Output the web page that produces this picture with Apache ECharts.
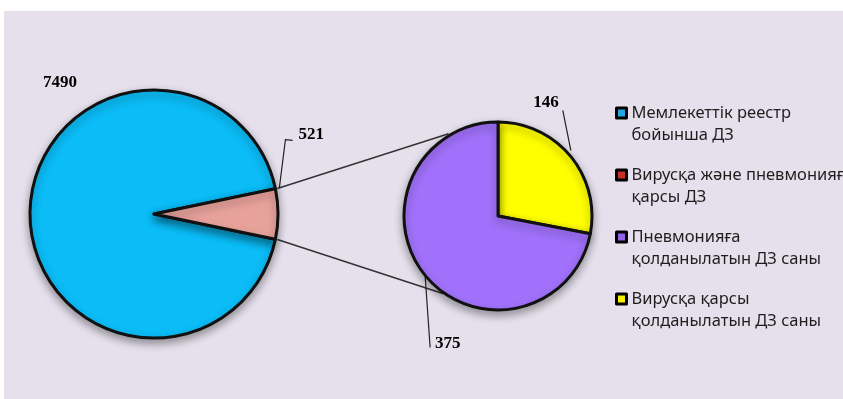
<!DOCTYPE html>
<html>
<head>
<meta charset="utf-8">
<script src="https://cdn.jsdelivr.net/npm/echarts@6/dist/echarts.min.js"></script>
<style>
	html,body{margin:0;padding:0;background:#fff;}
	#chart{width:843px;height:399px;}
</style>
</head>
<body>
<div id="chart"></div>
<script>
// data
var bigNames = ['Мемлекеттік реестр\nбойынша ДЗ', 'Вирусқа және пневмонияға\nқарсы ДЗ'];
var bigValues = [7490, 521];
var smallNames = ['Вирусқа қарсы\nқолданылатын ДЗ саны', 'Пневмонияға\nқолданылатын ДЗ саны'];
var smallValues = [146, 375];
var legendOrder = [bigNames[0], bigNames[1], smallNames[1], smallNames[0]];
var legendIconColors = ['#25a6e2', '#c8302c', '#9063e8', '#f4f000'];

var bigColors = ['#0bbcf6', '#e8a29c'];
var smallColors = ['#ffff00', '#a171fb'];

// layout
var BIG = {cx: 154, cy: 214, r: 124};
var SMALL = {cx: 498, cy: 216, r: 94};

function polar(c, deg, dist){
	var a = deg * Math.PI / 180;
	return [c.cx + dist * Math.cos(a), c.cy - dist * Math.sin(a)];
}

var bigTotal = bigValues[0] + bigValues[1];
var half = 180 * bigValues[1] / bigTotal;

// label placement (angle, distance from pie centre)
var bigLabels = [
	{at: [125.5, 162]},
	{at: [26.7, 176], line: [[half, BIG.r + 4], [29.5, 151], [28, 157]]}
];
var smallLabels = [
	{at: [67, 123], line: [[42, SMALL.r + 4], [58.5, 124], [58.5, 124]]},
	{at: [-111.5, 137], line: [[-140, SMALL.r + 1], [-117.3, 148], [-117.3, 148]]}
];

function layoutFor(center, list){
	return function(params){
		var item = list[params.dataIndex];
		var p = polar(center, item.at[0], item.at[1]);
		var res = {x: p[0], y: p[1], align: 'center', verticalAlign: 'middle'};
		if (item.line) {
			res.labelLinePoints = item.line.map(function(q){ return polar(center, q[0], q[1]); });
		}
		return res;
	};
}

var labelFont = {
	show: true,
	position: 'outside',
	formatter: '{c}',
	color: '#000',
	fontFamily: 'Liberation Serif',
	fontWeight: 'bold',
	fontSize: 17
};
var pieItem = {
	borderColor: '#111',
	borderWidth: 3,
	shadowBlur: 8,
	shadowOffsetY: 4,
	shadowColor: 'rgba(0,0,0,0.35)'
};

var p1 = polar(BIG, half, BIG.r + 2), p2 = polar(BIG, -half, BIG.r + 2);
var q1 = polar(SMALL, 121, SMALL.r + 2), q2 = polar(SMALL, -125, SMALL.r + 1);

var myChart = echarts.init(document.getElementById('chart'));
var option = {
	backgroundColor: '#fff',
	animation: false,
	graphic: [
		{type: 'rect', shape: {x: 4, y: 11, width: 845, height: 395}, style: {fill: '#e5e0ec'}, z: -10},
		{type: 'line', shape: {x1: p1[0], y1: p1[1], x2: q1[0], y2: q1[1]}, style: {stroke: '#333', lineWidth: 1.5}},
		{type: 'line', shape: {x1: p2[0], y1: p2[1], x2: q2[0], y2: q2[1]}, style: {stroke: '#333', lineWidth: 1.5}}
	],
	legend: {
		orient: 'vertical',
		left: 615,
		top: 80,
		padding: 0,
		itemWidth: 10,
		itemHeight: 10,
		itemGap: -4,
		icon: 'rect',
		itemStyle: {borderColor: '#000', borderWidth: 3},
		// empty first line keeps the icon level with the first text line
		formatter: function(name){ return '\n' + name; },
		textStyle: {
			fontFamily: 'Noto Sans',
			fontSize: 16.5,
			lineHeight: 22,
			color: '#1e1e1e'
		},
		data: legendOrder.map(function(n, i){
			return {name: n, itemStyle: {color: legendIconColors[i]}};
		})
	},
	series: [
		{
			name: 'big',
			type: 'pie',
			center: [BIG.cx, BIG.cy],
			radius: BIG.r,
			startAngle: 360 - half,
			clockwise: true,
			avoidLabelOverlap: false,
			label: labelFont,
			labelLine: {show: true, lineStyle: {color: '#222', width: 1.2}},
			labelLayout: layoutFor(BIG, bigLabels),
			itemStyle: pieItem,
			data: bigNames.map(function(n, i){
				return {
					name: n, value: bigValues[i],
					itemStyle: {color: bigColors[i]},
					labelLine: {show: !!bigLabels[i].line}
				};
			})
		},
		{
			name: 'small',
			type: 'pie',
			center: [SMALL.cx, SMALL.cy],
			radius: SMALL.r,
			startAngle: 90,
			clockwise: true,
			avoidLabelOverlap: false,
			label: labelFont,
			labelLine: {show: true, lineStyle: {color: '#222', width: 1.2}},
			labelLayout: layoutFor(SMALL, smallLabels),
			itemStyle: pieItem,
			data: smallNames.map(function(n, i){
				return {name: n, value: smallValues[i], itemStyle: {color: smallColors[i]}};
			})
		}
	]
};
myChart.setOption(option);
</script>
</body>
</html>
